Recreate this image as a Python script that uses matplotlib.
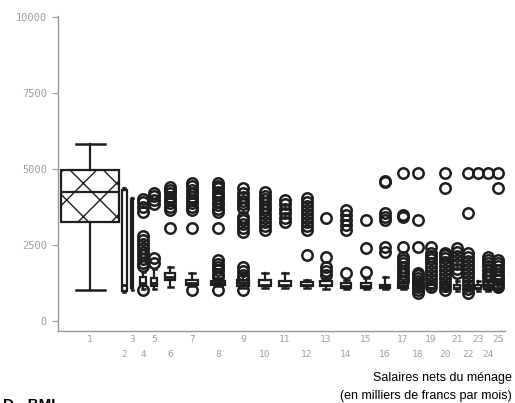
import matplotlib
matplotlib.use("Agg")
import matplotlib.pyplot as plt

# category labels 1..25 and their place on the (uneven) x scale
cats = [str(i) for i in range(1, 26)]
xpos = [32, 66, 74, 85, 96, 112, 134, 160, 185, 207, 227, 249, 268,
        288, 308, 327, 345, 360, 373, 387, 399, 410, 420, 430, 440]
widths = [58, 5, 2, 6, 6, 10, 12, 14, 12, 12, 12, 12, 12,
          10, 10, 10, 10, 8, 8, 8, 6, 8, 6, 8, 8]

whislo = [1020, 950, 1020, 1050, 1050, 1120, 1150, 1150, 1100, 1100, 1100, 1100, 1050,
          1050, 1050, 1050, 1050, 1000, 1000, 1000, 1000, 1000, 1000, 1000, 1000]
q1 = [3257, 1000, 1100, 1150, 1150, 1350, 1200, 1200, 1150, 1150, 1150, 1150, 1150,
      1100, 1100, 1100, 1100, 1050, 1050, 1050, 1050, 1050, 1050, 1050, 1050]
med = [4243, 1200, 1200, 1250, 1250, 1450, 1250, 1250, 1250, 1200, 1200, 1200, 1200,
       1150, 1150, 1150, 1150, 1100, 1100, 1100, 1100, 1100, 1100, 1100, 1100]
q3 = [4967, 4300, 4000, 1450, 1400, 1580, 1350, 1300, 1350, 1350, 1300, 1280, 1300,
      1250, 1250, 1200, 1250, 1200, 1200, 1200, 1200, 1200, 1200, 1200, 1200]
whishi = [5822, 4375, 4046, 1600, 1700, 1780, 1580, 1400, 1500, 1580, 1580, 1350, 1400,
          1350, 1400, 1450, 1300, 1300, 1300, 1300, 1300, 1300, 1300, 1300, 1300]

fliers = [
    [],
    [],
    [],
    [1020, 1800, 1920, 2040, 2160, 2280, 2400, 2520, 2650, 2800, 3600, 3750, 3900, 4000],
    [1900, 2070, 3850, 3980, 4100, 4200],
    [3060, 3650, 3760, 3870, 3980, 4090, 4200, 4300, 4400],
    [1020, 3060, 3650, 3760, 3870, 3980, 4090, 4200, 4320, 4430, 4540],
    [1020, 1450, 1560, 1670, 1780, 1890, 2000, 3060, 3590, 3700, 3810, 3920, 4030,
     4140, 4250, 4360, 4450, 4540],
    [1020, 1400, 1520, 1640, 1780, 2930, 3060, 3190, 3310, 3420, 3720, 3840, 3960,
     4080, 4200, 4370],
    [3000, 3130, 3260, 3390, 3520, 3640, 3760, 3880, 4000, 4120, 4240],
    [3260, 3400, 3550, 3700, 3850, 3980],
    [2170, 3000, 3130, 3260, 3390, 3520, 3650, 3780, 3910, 4050],
    [1500, 1640, 1780, 2100, 3390],
    [1580, 3000, 3160, 3320, 3480, 3650],
    [1610, 2400, 3320],
    [2270, 2430, 3320, 3420, 3550, 4570, 4620],
    [1300, 1420, 1540, 1660, 1780, 1900, 2000, 2100, 2430, 3420, 3490, 4870],
    [920, 1020, 1120, 1220, 1320, 1420, 1500, 1580, 2430, 3320, 4870],
    [1120, 1250, 1380, 1510, 1640, 1770, 1900, 2030, 2140, 2240, 2430],
    [1020, 1150, 1280, 1410, 1540, 1670, 1800, 1930, 2060, 2170, 2240, 4375, 4870],
    [1580, 1720, 1860, 2000, 2140, 2270, 2400],
    [920, 1050, 1180, 1310, 1440, 1570, 1700, 1830, 1960, 2100, 2240, 3550, 4870],
    [4870],
    [1200, 1320, 1440, 1560, 1680, 1800, 1920, 2000, 2100, 4870],
    [1120, 1230, 1340, 1450, 1560, 1680, 1800, 1900, 2000, 4375, 4870],
]

yticks = [0, 2500, 5000, 7500, 10000]

stats = []
for i in range(len(cats)):
    stats.append(dict(med=med[i], q1=q1[i], q3=q3[i], whislo=whislo[i],
                      whishi=whishi[i], fliers=fliers[i]))

plt.rcParams['hatch.linewidth'] = 1.0
plt.rcParams['hatch.color'] = '#333333'

fig = plt.figure(figsize=(5.15, 4.03), dpi=100)
ax = fig.add_axes([58/515., 1 - 331/403., 447/515., 315/403.])

ink = '#1e1e1e'
res = ax.bxp(stats, positions=xpos, widths=widths, patch_artist=True,
             boxprops=dict(facecolor='white', edgecolor=ink, linewidth=1.6),
             whiskerprops=dict(color=ink, linewidth=1.6),
             capprops=dict(color=ink, linewidth=1.8),
             medianprops=dict(color=ink, linewidth=2.0),
             flierprops=dict(marker='o', markerfacecolor='none', markeredgecolor=ink,
                             markersize=7.5, markeredgewidth=1.8))
res['boxes'][0].set_hatch('x')
res['medians'][0].set_linewidth(1.6)

ax.set_xlim(0, 447)
ax.set_ylim(-330, 10035)

ax.set_yticks(yticks)
ax.set_yticklabels([str(v) for v in yticks])
# odd labels on the first row, even labels on a second row
odd = [i for i in range(len(cats)) if i % 2 == 0]
even = [i for i in range(len(cats)) if i % 2 == 1]
ax.set_xticks([xpos[i] for i in odd])
ax.set_xticklabels([cats[i] for i in odd])
ax.set_xticks([xpos[i] for i in even], minor=True)
ax.set_xticklabels([cats[i] for i in even], minor=True)

for s in ['top', 'right']:
    ax.spines[s].set_visible(False)
for s in ['left', 'bottom']:
    ax.spines[s].set_color('#9a9a9a')
    ax.spines[s].set_linewidth(1.0)
ax.spines['left'].set_bounds(-330, 10035)

ax.tick_params(axis='y', direction='out', length=4, color='#9a9a9a',
               labelcolor='#a0a0a0', labelsize=7.5, pad=4)
ax.tick_params(axis='x', which='major', length=0, labelcolor='#a0a0a0',
               labelsize=6.8, pad=3)
ax.tick_params(axis='x', which='minor', length=0, labelcolor='#a0a0a0',
               labelsize=6.8, pad=14)
for t in ax.get_xticklabels() + ax.get_xticklabels(minor=True) + ax.get_yticklabels():
    t.set_family('DejaVu Sans Mono')

fig.text(512/515., 1 - 378/403., "Salaires nets du ménage", ha='right', va='center',
         fontsize=9, family='Liberation Sans')
fig.text(512/515., 1 - 396/403., "(en milliers de francs par mois)", ha='right',
         va='center', fontsize=9, family='Liberation Sans')
fig.text(3/515., 1 - 398/403., "D - BMI", ha='left', va='top', fontsize=11,
         fontweight='bold', family='Liberation Sans')
fig.text(170/515., 1.008, "Leptine (pg/ml)", ha='center', va='baseline',
         fontsize=11, family='Liberation Sans')

fig.savefig("out.png", dpi=100)
